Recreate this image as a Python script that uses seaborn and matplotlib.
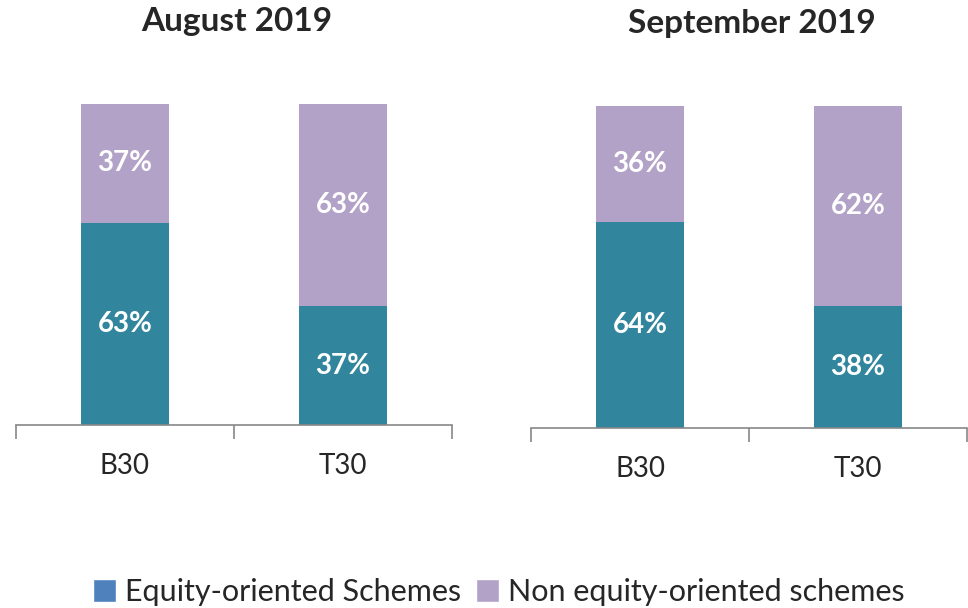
import matplotlib
matplotlib.use("Agg")
import matplotlib.pyplot as plt
import seaborn as sns
import pandas as pd
from matplotlib.patches import Patch

sns.set_style("white")
plt.rcParams['font.family'] = ['Lato', 'DejaVu Sans']

categories = ["B30", "T30"]
months = ["August 2019", "September 2019"]
equity_aug = [63, 37]
non_equity_aug = [37, 63]
equity_sep = [64, 38]
non_equity_sep = [36, 62]

equity_color = "#31859C"
non_color = "#B3A2C7"
legend_equity_color = "#4F81BD"

fig = plt.figure(figsize=(9.68, 6.08), dpi=100)
ax1 = fig.add_axes([16/968, (608-425)/608, 436/968, 321/608])
ax2 = fig.add_axes([531/968, (608-428)/608, 436/968, 322/608])

for ax, month, eq, ne in [(ax1, months[0], equity_aug, non_equity_aug),
                          (ax2, months[1], equity_sep, non_equity_sep)]:
    df = pd.DataFrame({"cat": categories, "eq": eq, "ne": ne})
    df["total"] = df["eq"] + df["ne"]
    sns.barplot(data=df, x="cat", y="total", color=non_color, width=0.404,
                saturation=1, ax=ax, edgecolor="none")
    sns.barplot(data=df, x="cat", y="eq", color=equity_color, width=0.404,
                saturation=1, ax=ax, edgecolor="none")
    for i, (e, n) in enumerate(zip(eq, ne)):
        ax.text(i, e/2, f"{e}%", ha="center", va="center", color="white",
                fontsize=20, fontweight="bold")
        ax.text(i, e + n/2, f"{n}%", ha="center", va="center", color="white",
                fontsize=20, fontweight="bold")
    ax.set_xlim(-0.5, 1.5)
    ax.set_ylim(0, 100)
    ax.set_xlabel("")
    ax.set_ylabel("")
    ax.set_yticks([])
    ax.set_xticks([-0.5, 0.5, 1.5], minor=False)
    ax.set_xticklabels([])
    ax.tick_params(axis="x", which="major", length=10, width=1.2, color="#888888",
                   direction="out", bottom=True)
    ax.set_xticks([0, 1], minor=True)
    ax.set_xticklabels(categories, minor=True, fontsize=20)
    ax.tick_params(axis="x", which="minor", length=0, pad=20)
    for s in ["top", "right", "left"]:
        ax.spines[s].set_visible(False)
    ax.spines["bottom"].set_color("#888888")
    ax.spines["bottom"].set_linewidth(1.2)

fig.text(237/968, 1 - 31/608, months[0], ha="center", va="baseline",
         fontsize=24, fontweight="bold")
fig.text(752/968, 1 - 33/608, months[1], ha="center", va="baseline",
         fontsize=24, fontweight="bold")

handles = [Patch(facecolor=legend_equity_color, label="Equity-oriented Schemes"),
           Patch(facecolor=non_color, label="Non equity-oriented schemes")]
fig.legend(handles=handles, loc="center", bbox_to_anchor=(499/968, 1 - 592/608),
           ncol=2, frameon=False, fontsize=22, handlelength=0.75, handleheight=0.75,
           handletextpad=0.3, columnspacing=0.5, borderpad=0, borderaxespad=0)

fig.savefig("out.png", dpi=100)
